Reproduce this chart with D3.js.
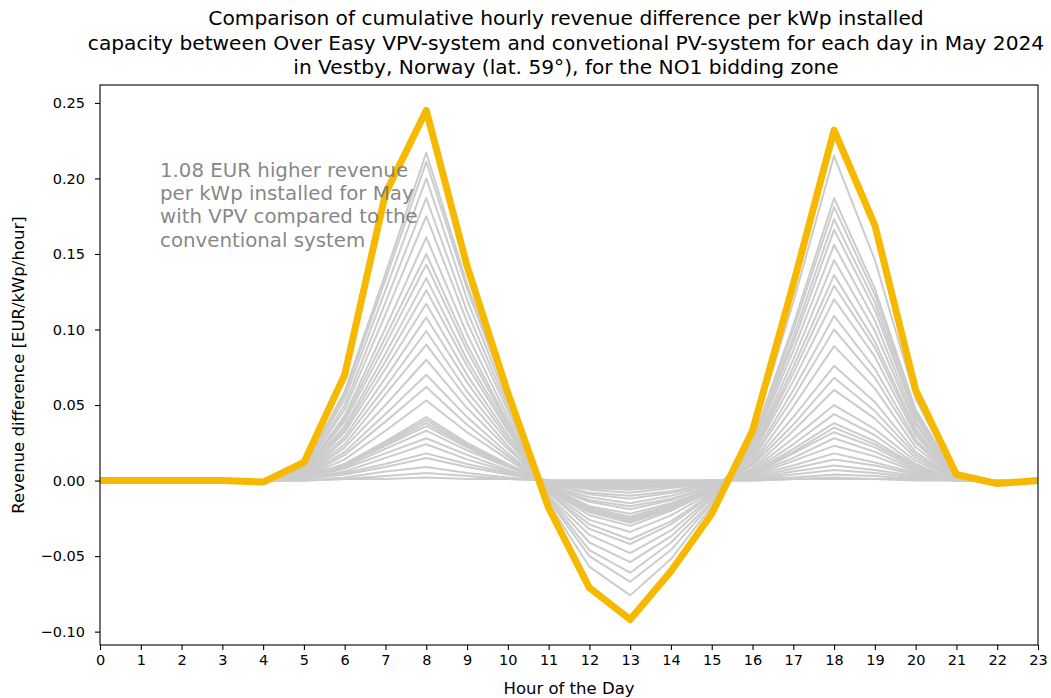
<!DOCTYPE html>
<html>
<head>
<meta charset="utf-8">
<script src="https://cdn.jsdelivr.net/npm/d3@7"></script>
<style>
  html, body { margin: 0; padding: 0; background: #fff; }
  svg { display: block; font-family: "DejaVu Sans", sans-serif; }
</style>
</head>
<body>
<svg id="chart" width="1051" height="698"></svg>
<script>
// Hours on the x axis
const hours = [0,1,2,3,4,5,6,7,8,9,10,11,12,13,14,15,16,17,18,19,20,21,22,23];
const hourTicks = hours;

// Highlighted day (EUR/kWp/hour)
const highlightDay = [0,0,0,0,-0.001,0.012,0.070,0.190,0.245,0.142,0.058,-0.018,-0.071,-0.092,-0.060,-0.022,0.033,0.130,0.232,0.169,0.060,0.004,-0.002,0];

// Remaining days of May 2024 (EUR/kWp/hour, one row per day)
const dailyDiff = [
  [0,0,0,0,0,.009,.059,.137,.217,.130,.056,-.015,-.057,-.076,-.052,-.017,.030,.118,.215,.146,.054,.002,0,0],
  [0,0,0,0,0,.008,.057,.133,.211,.127,.055,-.013,-.050,-.067,-.046,-.015,.026,.103,.187,.127,.047,.002,0,0],
  [0,0,0,0,0,.008,.054,.126,.200,.120,.052,-.012,-.046,-.061,-.041,-.014,.025,.100,.181,.123,.045,.002,0,0],
  [0,0,0,0,0,.007,.050,.118,.187,.112,.049,-.011,-.041,-.054,-.037,-.012,.024,.095,.173,.118,.043,.002,0,0],
  [0,0,0,0,0,.007,.047,.110,.175,.105,.046,-.010,-.036,-.048,-.033,-.011,.023,.091,.166,.113,.042,.002,0,0],
  [0,0,0,0,0,.006,.043,.101,.161,.097,.042,-.008,-.032,-.042,-.029,-.010,.022,.086,.156,.106,.039,.002,0,0],
  [0,0,0,0,0,.006,.041,.095,.150,.090,.039,-.008,-.029,-.039,-.027,-.009,.020,.080,.146,.099,.037,.001,0,0],
  [0,0,0,0,0,.006,.039,.090,.143,.086,.037,-.007,-.026,-.034,-.023,-.008,.019,.075,.136,.092,.034,.001,0,0],
  [0,0,0,0,0,.005,.036,.084,.134,.080,.035,-.006,-.023,-.030,-.020,-.007,.018,.071,.129,.088,.032,.001,0,0],
  [0,0,0,0,0,.005,.034,.079,.126,.076,.033,-.006,-.021,-.028,-.019,-.006,.017,.066,.120,.082,.030,.001,0,0],
  [0,0,0,0,0,.005,.032,.074,.117,.070,.030,-.005,-.020,-.027,-.018,-.006,.015,.060,.109,.074,.027,.001,0,0],
  [0,0,0,0,0,.004,.029,.068,.108,.065,.028,-.005,-.020,-.026,-.018,-.006,.014,.055,.100,.068,.025,.001,0,0],
  [0,0,0,0,0,.004,.027,.062,.099,.059,.026,-.005,-.019,-.025,-.017,-.006,.012,.049,.089,.061,.022,.001,0,0],
  [0,0,0,0,0,.004,.024,.057,.090,.054,.023,-.005,-.018,-.024,-.016,-.006,.011,.042,.076,.052,.019,.001,0,0],
  [0,0,0,0,0,.003,.022,.050,.080,.048,.021,-.004,-.017,-.022,-.015,-.005,.010,.037,.068,.046,.017,.001,0,0],
  [0,0,0,0,0,.003,.019,.044,.070,.042,.018,-.004,-.014,-.019,-.013,-.004,.008,.033,.060,.041,.015,.001,0,0],
  [0,0,0,0,0,.002,.017,.039,.062,.037,.016,-.003,-.013,-.017,-.012,-.004,.007,.028,.050,.034,.013,.001,0,0],
  [0,0,0,0,0,.002,.014,.033,.053,.032,.014,-.003,-.011,-.015,-.010,-.003,.006,.024,.044,.030,.011,0,0,0],
  [0,0,0,0,0,.002,.011,.026,.042,.025,.011,-.002,-.009,-.012,-.008,-.003,.005,.021,.038,.026,.010,0,0,0],
  [0,0,0,0,0,.002,.011,.025,.040,.024,.010,-.002,-.008,-.010,-.007,-.002,.005,.019,.035,.024,.009,0,0,0],
  [0,0,0,0,0,.002,.010,.024,.038,.023,.010,-.002,-.006,-.008,-.005,-.002,.004,.018,.032,.022,.008,0,0,0],
  [0,0,0,0,0,.001,.010,.023,.036,.022,.009,-.001,-.005,-.006,-.004,-.001,.004,.015,.028,.019,.007,0,0,0],
  [0,0,0,0,0,.001,.009,.021,.033,.020,.009,-.001,-.004,-.005,-.003,-.001,.003,.013,.023,.016,.006,0,0,0],
  [0,0,0,0,0,.001,.008,.018,.028,.017,.007,-.001,-.003,-.004,-.003,-.001,.003,.010,.018,.012,.005,0,0,0],
  [0,0,0,0,0,.001,.006,.015,.024,.014,.006,-.001,-.002,-.003,-.002,-.001,.002,.008,.014,.010,.004,0,0,0],
  [0,0,0,0,0,.001,.005,.011,.018,.011,.005,0,-.002,-.002,-.001,0,.001,.006,.010,.007,.003,0,0,0],
  [0,0,0,0,0,.001,.004,.009,.015,.009,.004,0,-.001,-.001,-.001,0,.001,.004,.007,.005,.002,0,0,0],
  [0,0,0,0,0,0,.002,.006,.009,.005,.002,0,-.001,-.001,-.001,0,.001,.002,.004,.003,.001,0,0,0],
  [0,0,0,0,0,0,.001,.003,.005,.003,.001,0,0,0,0,0,0,.001,.002,.001,.001,0,0,0],
  [0,0,0,0,0,0,.001,.001,.002,.001,.001,0,0,0,0,0,0,.001,.001,.001,0,0,0,0]
];

const yTicks = [-0.10,-0.05,0.00,0.05,0.10,0.15,0.20,0.25];

const titleLines = [
  "Comparison of cumulative hourly revenue difference per kWp installed",
  "capacity between Over Easy VPV-system and convetional PV-system for each day in May 2024",
  "in Vestby, Norway (lat. 59°), for the NO1 bidding zone"
];
const noteLines = [
  "1.08 EUR higher revenue",
  "per kWp installed for May",
  "with VPV compared to the",
  "conventional system"
];
const xLabel = "Hour of the Day";
const yLabel = "Revenue difference [EUR/kWp/hour]";

// Layout
const W = 1051, H = 698;
const plot = { left: 100, right: 1038, top: 85, bottom: 645 };

const svg = d3.select("#chart");

const x = d3.scaleLinear().domain([0, 23]).range([plot.left, plot.right]);

// y domain: data extent with 5 % padding on both sides
const allVals = dailyDiff.flat().concat(highlightDay);
const [vMin, vMax] = d3.extent(allVals);
const pad = (vMax - vMin) * 0.05;
const y = d3.scaleLinear().domain([vMin - pad, vMax + pad]).range([plot.bottom, plot.top]);

svg.append("defs").append("clipPath").attr("id", "plot-clip")
  .append("rect")
  .attr("x", plot.left).attr("y", plot.top)
  .attr("width", plot.right - plot.left).attr("height", plot.bottom - plot.top);

const line = d3.line().x((d, i) => x(hours[i])).y(d => y(d));

const lines = svg.append("g").attr("clip-path", "url(#plot-clip)");

lines.selectAll("path.day")
  .data(dailyDiff)
  .join("path")
  .attr("class", "day")
  .attr("d", line)
  .attr("fill", "none")
  .attr("stroke", "#cccccc")
  .attr("stroke-width", 2)
  .attr("stroke-linejoin", "round");

lines.append("path")
  .datum(highlightDay)
  .attr("d", line)
  .attr("fill", "none")
  .attr("stroke", "#f7b900")
  .attr("stroke-width", 7)
  .attr("stroke-linejoin", "round");

// Axes
const xAxis = d3.axisBottom(x).tickValues(hourTicks).tickFormat(d3.format("d"))
  .tickSize(5).tickPadding(5);
const yAxis = d3.axisLeft(y).tickValues(yTicks).tickFormat(d3.format(".2f"))
  .tickSize(5).tickPadding(10);

const gx = svg.append("g").attr("transform", `translate(0,${plot.bottom})`).call(xAxis);
const gy = svg.append("g").attr("transform", `translate(${plot.left},0)`).call(yAxis);

[gx, gy].forEach(g => {
  g.select(".domain").remove();
  g.selectAll(".tick line").attr("stroke", "#000").attr("stroke-width", 1.1);
  g.selectAll(".tick text").attr("fill", "#000").attr("font-size", 14.5)
    .attr("font-family", "DejaVu Sans");
});

// Frame
svg.append("rect")
  .attr("x", plot.left).attr("y", plot.top)
  .attr("width", plot.right - plot.left).attr("height", plot.bottom - plot.top)
  .attr("fill", "none").attr("stroke", "#000").attr("stroke-width", 1.1);

// Note
svg.append("text")
  .attr("x", 160).attr("y", 177)
  .attr("font-size", 19.8)
  .attr("fill", "#777")
  .attr("fill-opacity", 0.9)
  .selectAll("tspan")
  .data(noteLines)
  .join("tspan")
  .attr("x", 160)
  .attr("dy", (d, i) => i === 0 ? 0 : 23.2)
  .text(d => d);

// Title
svg.append("text")
  .attr("text-anchor", "middle")
  .attr("font-size", 20.2)
  .attr("fill", "#000")
  .selectAll("tspan")
  .data(titleLines)
  .join("tspan")
  .attr("x", 566)
  .attr("y", (d, i) => 25.3 + i * 24.5)
  .text(d => d);

// Axis labels
svg.append("text")
  .attr("x", (plot.left + plot.right) / 2).attr("y", 694)
  .attr("text-anchor", "middle").attr("font-size", 16.5).attr("fill", "#000")
  .text(xLabel);

svg.append("text")
  .attr("transform", `translate(24,${(plot.top + plot.bottom) / 2}) rotate(-90)`)
  .attr("text-anchor", "middle").attr("font-size", 16.5).attr("fill", "#000")
  .text(yLabel);
</script>
</body>
</html>
